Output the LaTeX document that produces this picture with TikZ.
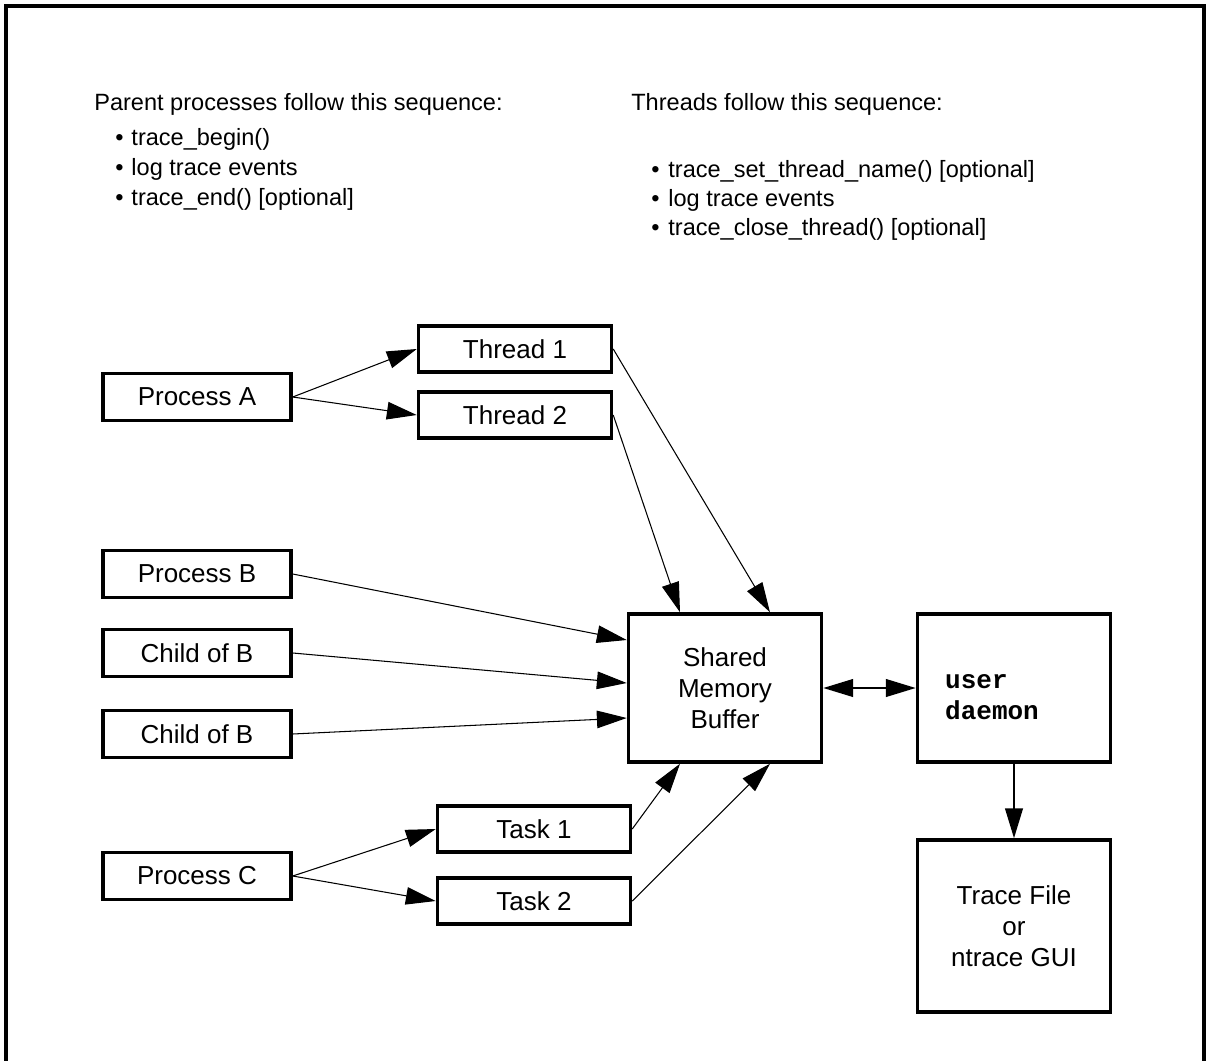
\documentclass[tikz,border=0pt]{standalone}
\usepackage{fontspec}
\setmainfont{Liberation Sans}
\setmonofont{Liberation Mono}
\usetikzlibrary{arrows.meta}

\tikzset{
  box/.style={draw,line width=2pt,inner sep=0pt,align=center,
    font=\fontsize{14.8}{17.6}\selectfont},
  procbox/.style={box,minimum width=3.76cm,minimum height=0.94cm},
  thrbox/.style={box,minimum width=3.86cm,minimum height=0.92cm},
  bigbox/.style={box,minimum width=3.86cm,minimum height=2.96cm},
  hdr/.style={anchor=base west,inner sep=0pt,font=\fontsize{13.4}{16}\selectfont},
  conn/.style={-{Triangle[length=17pt,width=10pt]},line width=0.6pt},
  thick conn/.style={line width=1.3pt},
}

\begin{document}
\begin{tikzpicture}[x=0.02cm,y=-0.02cm]
    \useasboundingbox (0,0) rectangle (1207,1061);
    \draw[line width=1.9pt](6,1061)--(6,6)--(1204,6)--(1204,1061);

    % sequences
    \node[hdr] (hdrproc) at (94,111){Parent processes follow this sequence:};
    \node[hdr] (pitem1) at (115,146){\textbullet\hspace{4.5pt}trace\_begin()};
    \node[hdr] (pitem2) at (115,175){\textbullet\hspace{4.5pt}log trace events};
    \node[hdr] (pitem3) at (115,205){\textbullet\hspace{4.5pt}trace\_end() [optional]};
    \node[hdr] (hdrthr) at (631,111){Threads follow this sequence:};
    \node[hdr] (titem1) at (651,177){\textbullet\hspace{5pt}trace\_set\_thread\_name() [optional]};
    \node[hdr] (titem2) at (651,206){\textbullet\hspace{5pt}log trace events};
    \node[hdr] (titem3) at (651,235){\textbullet\hspace{5pt}trace\_close\_thread() [optional]};

    % boxes
    \node[procbox] (procA) at (197,397){Process A};
    \node[thrbox] (thr1) at (515,349){Thread 1};
    \node[thrbox] (thr2) at (515,415){Thread 2};
    \node[procbox] (procB) at (197,574){Process B};
    \node[procbox] (childB1) at (197,653){Child of B};
    \node[procbox] (childB2) at (197,734){Child of B};
    \node[procbox] (procC) at (197,876){Process C};
    \node[thrbox] (task1) at (534,829){Task 1};
    \node[thrbox] (task2) at (534,901){Task 2};
    \node[bigbox] (smb) at (725,688){Shared\\Memory\\Buffer};
    \node[bigbox] (daemon) at (1014,688){};
    \node[align=left,inner sep=0pt,font=\fontsize{14.8}{17.6}\ttfamily\bfseries\selectfont]
        (daemonlbl) at (992,697){user\\daemon};
    \node[bigbox,minimum height=3.44cm] (tfile) at (1014,926){Trace File\\or\\ntrace GUI};

    % connectors
    \draw[conn](procA.east)--(thr1.west);
    \draw[conn](procA.east)--(thr2.west);
    \draw[conn](thr1.east)--([xshift=0.9cm]smb.north);
    \draw[conn](thr2.east)--([xshift=-0.9cm]smb.north);
    \draw[conn](procB.east)--([yshift=0.96cm]smb.west);
    \draw[conn](childB1.east)--([yshift=0.1cm]smb.west);
    \draw[conn](childB2.east)--([yshift=-0.6cm]smb.west);
    \draw[conn](procC.east)--(task1.west);
    \draw[conn](procC.east)--(task2.west);
    \draw[conn](task1.east)--([xshift=-0.9cm]smb.south);
    \draw[conn](task2.east)--([xshift=0.9cm]smb.south);
    \draw[thick conn,{Triangle[length=17pt,width=10pt]}-{Triangle[length=17pt,width=10pt]}](smb.east)--(daemon.west);
    \draw[conn,thick conn](daemon.south)--(tfile.north);
\end{tikzpicture}
\end{document}
